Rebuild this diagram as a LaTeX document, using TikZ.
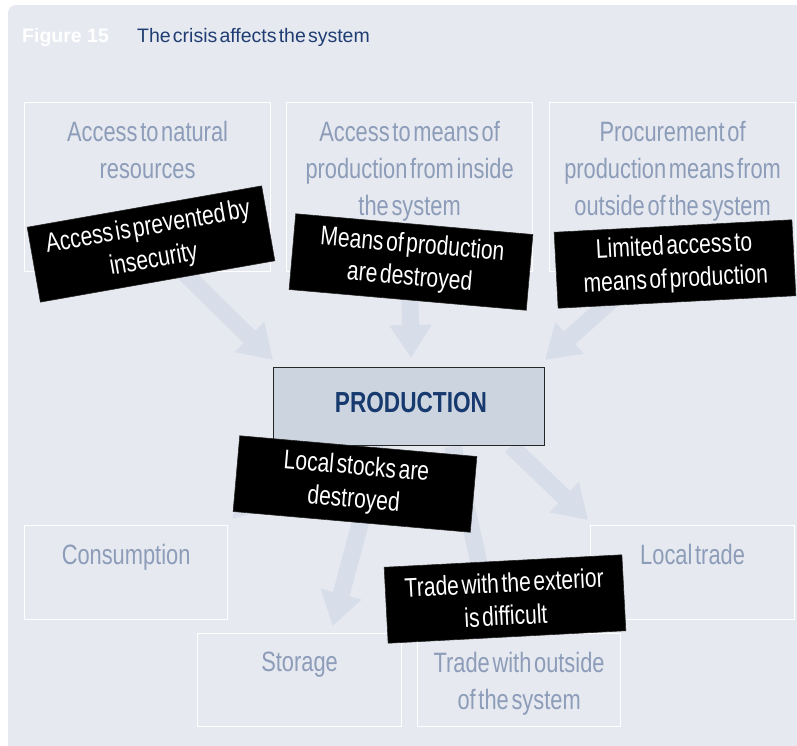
\documentclass[tikz,border=0pt]{standalone}
\usepackage{fontspec}
\setmainfont{Liberation Sans}
\newfontfamily\cond[FakeStretch=0.78,WordSpace=0.45]{Liberation Sans}
\newfontfamily\ttlfont[WordSpace=0.4]{Liberation Sans}
\usetikzlibrary{arrows.meta,calc}
\pgfdeclarelayer{bg}
\pgfdeclarelayer{arr}
\pgfsetlayers{bg,arr,main}
\definecolor{panel}{HTML}{E6E9EF}
\definecolor{arrowc}{HTML}{D7DEE9}
\definecolor{greytxt}{HTML}{8C9CB9}
\definecolor{titleblue}{HTML}{1F3C73}
\definecolor{prodfill}{HTML}{CCD4E0}
\definecolor{prodblue}{HTML}{173A6E}
\tikzset{
  frame/.style={draw=white, line width=1.2pt, inner sep=0pt, anchor=north west},
  gtext/.style={text=greytxt, align=center, inner sep=0pt, anchor=north,
    font=\cond\fontsize{28}{37}\selectfont},
  lbl/.style={fill=black, draw=black!85, line width=0.6pt, text=white, align=center,
    minimum width=238pt, minimum height=76pt, inner sep=0pt,
    font=\cond\fontsize{27}{33}\selectfont},
  fat/.style={draw=arrowc, line width=17pt, -{Triangle[width=40pt,length=33pt]}}
}
\begin{document}
\begin{tikzpicture}[x=1pt,y=-1pt]
\useasboundingbox (0,0) rectangle (797,745);
\begin{pgfonlayer}{bg}
  \fill[white] (0,0) rectangle (797,745);
  \begin{scope}
    \clip (0,0) rectangle (797,745);
    \fill[panel, rounded corners=8pt] (8,5) rectangle (815,760);
  \end{scope}
\end{pgfonlayer}

% title
\node[anchor=base west, text=white, inner sep=0pt,
  font=\bfseries\fontsize{19.5}{22}\selectfont] (fig) at (22,42) {Figure 15};
\node[anchor=base west, text=titleblue, inner sep=0pt,
  font=\ttlfont\fontsize{19.5}{22}\selectfont] (ttl) at (137,42) {The crisis affects the system};

% boxes
\node[frame, minimum width=246pt, minimum height=169pt] (b1) at (24,102) {};
\node[frame, minimum width=246pt, minimum height=169pt] (b2) at (286,102) {};
\node[frame, minimum width=246pt, minimum height=169pt] (b3) at (549,102) {};
\node[frame, minimum width=203pt, minimum height=94pt] (cons) at (24,525) {};
\node[frame, minimum width=204pt, minimum height=94pt] (lt) at (590,525) {};
\node[frame, minimum width=204pt, minimum height=93pt] (stor) at (197,633) {};
\node[frame, minimum width=203pt, minimum height=93pt] (tro) at (417,633) {};

\node[gtext] (t1) at ($(b1.north)+(0,19)$) {Access to natural\\resources};
\node[gtext] (t2) at ($(b2.north)+(0,19)$) {Access to means of\\production from inside\\the system};
\node[gtext] (t3) at ($(b3.north)+(0,19)$) {Procurement of\\production means from\\outside of the system};
\node[gtext] (t4) at ($(cons.north)+(0,19)$) {Consumption};
\node[gtext] (t5) at ($(lt.north)+(0,19)$) {Local trade};
\node[gtext] (t6) at ($(stor.north)+(0,19)$) {Storage};
\node[gtext] (t7) at ($(tro.north)+(0,19)$) {Trade with outside\\of the system};

% production
\node[draw=black!85, line width=1pt, fill=prodfill, anchor=north west, inner sep=0pt,
  minimum width=271pt, minimum height=78pt] (prod) at (273,367) {};
\node[text=prodblue, inner sep=0pt, font=\cond\bfseries\fontsize{29}{32}\selectfont]
  (prodtxt) at ($(prod.center)+(2,-4)$) {PRODUCTION};

% arrows
\begin{pgfonlayer}{arr}
  \draw[fat] ($(b1.south)+(36,0)$) -- ($(prod.north west)+(0,-7)$);
  \draw[fat] (b2.south) -- ($(prod.north)+(2,-9)$);
  \draw[fat] ($(b3.south)+(-30,0)$) -- ($(prod.north east)+(0,-7)$);
  \draw[fat] ($(prod.south east)+(-34,0)$) -- ($(lt.north west)+(-2,-5)$);
  \draw[fat] ($(prod.south)+(-28,0)$) -- ($(stor.north)+(33,-7)$);
  \draw[fat] ($(prod.south)+(44,0)$) -- ($(tro.north)+(-26,-6)$);
  \draw[fat] ($(prod.south west)+(25,0)$) -- ($(cons.north east)+(4,-6)$);
\end{pgfonlayer}

% labels
\node[lbl, rotate=10] (l1) at (151,244) {Access is prevented by\\insecurity};
\node[lbl, rotate=-5] (l2) at (411,262) {Means of production\\are destroyed};
\node[lbl, rotate=3] (l3) at (675,264) {Limited access to\\means of production};
\node[lbl, rotate=-5] (l4) at (355,484) {Local stocks are\\destroyed};
\node[lbl, rotate=3] (l5) at (505,599) {Trade with the exterior\\is difficult};
\end{tikzpicture}
\end{document}
